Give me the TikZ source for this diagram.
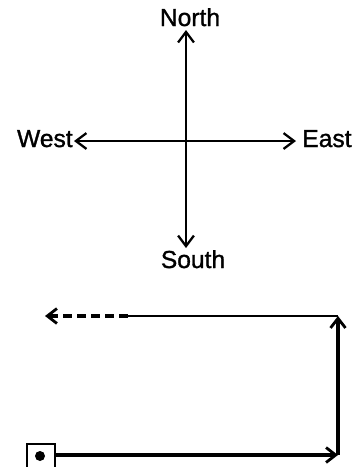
\documentclass[tikz,border=0pt]{standalone}
\usepackage{fontspec}
\setmainfont{Liberation Sans}[FakeBold=1.2]
\usetikzlibrary{arrows.meta, positioning}

\begin{document}
\begin{tikzpicture}[
    x=0.02cm, y=-0.02cm,
    dirlabel/.style={inner sep=0pt, font=\fontsize{14}{16}\selectfont},
    arrow/.style={-{Straight Barb[length=6pt, width=9pt, line width=1.3pt]}, line width=1.1pt},
    path/.style={line width=1.8pt},
    tip/.style={-{Straight Barb[length=5.5pt, width=8.5pt, line width=1.6pt]}}
]
    \useasboundingbox (0,0) rectangle (363,467);

    % compass
    \coordinate (centre) at (186,141);
    \coordinate (n) at (186,30);
    \coordinate (s) at (186,248);
    \coordinate (w) at (74,141);
    \coordinate (e) at (296,141);

    \node[dirlabel, anchor=base] (north) at (190,26) {North};
    \node[dirlabel, anchor=base] (south) at (193,268) {South};
    \node[dirlabel, anchor=base east] (west) at (73,147) {West};
    \node[dirlabel, anchor=base west] (east) at (302,147) {East};

    \draw[arrow] (centre) -- (n);
    \draw[arrow] (centre) -- (s);
    \draw[arrow] (centre) -- (w);
    \draw[arrow] (centre) -- (e);

    % route
    \node[draw, line width=0.8pt, minimum size=0.56cm, inner sep=0pt] (start) at (41,458) {};
    \fill (40,456) circle (5);
    \coordinate (corner1) at (338,455);
    \coordinate (corner2) at (338,316);
    \coordinate (turn) at (128,316);
    \coordinate (goal) at (45,316);

    \draw[path, tip] (start.east |- corner1) -- (corner1);
    \draw[path, tip] (corner1) -- (corner2);
    \draw[line width=0.9pt] (corner2) -- (turn);
    \draw[path, tip, dash pattern=on 5pt off 3pt] (turn) -- (goal);
\end{tikzpicture}
\end{document}
